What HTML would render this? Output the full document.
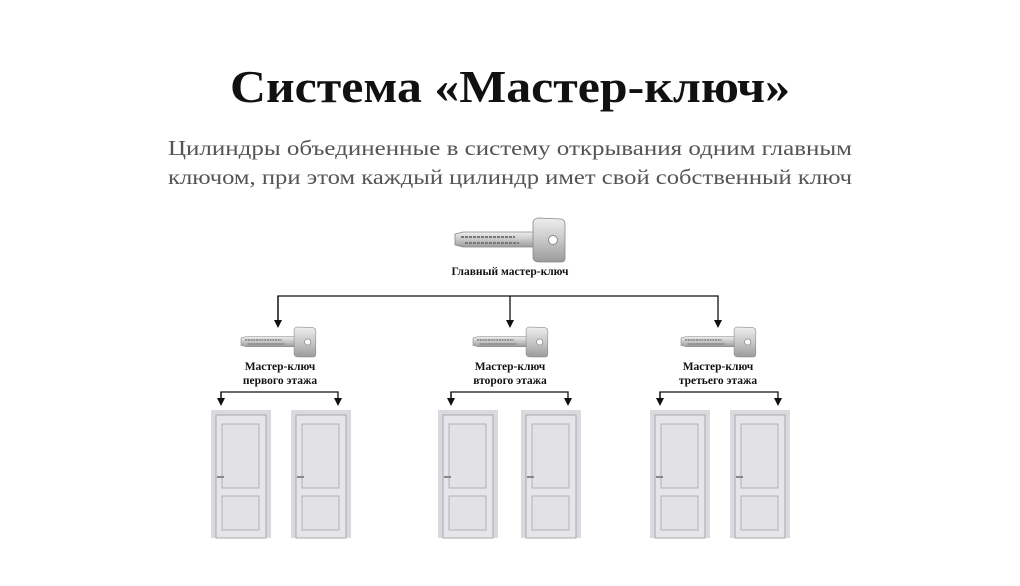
<!DOCTYPE html>
<html><head><meta charset="utf-8"><style>
html,body{margin:0;padding:0;background:#fff;}
svg{display:block;}
</style></head><body>
<svg width="1020" height="586" viewBox="0 0 1020 586" xmlns="http://www.w3.org/2000/svg" font-family="'Liberation Serif', serif">
<defs>
  <linearGradient id="kg" x1="0" y1="0" x2="0" y2="1">
    <stop offset="0" stop-color="#eee"/><stop offset="0.5" stop-color="#c8c8c8"/><stop offset="1" stop-color="#9a9a9a"/>
  </linearGradient>
  <g id="key">
    <path d="M0,16 L8,14 L80,14 L80,29 L8,29 L0,27 Z" fill="url(#kg)" stroke="#888" stroke-width="0.8"/>
    <line x1="6" y1="19" x2="60" y2="19" stroke="#777" stroke-width="2" stroke-dasharray="3 1"/>
    <line x1="10" y1="25" x2="64" y2="25" stroke="#777" stroke-width="2" stroke-dasharray="3 1"/>
    <path d="M78,4 Q79,0 84,0 L106,1 Q110,2 110,6 L110,40 Q110,44 106,44 L84,44 Q79,44 78,40 Z" fill="url(#kg)" stroke="#888" stroke-width="0.8"/>
    <circle cx="98" cy="22" r="4.5" fill="#fff" stroke="#888" stroke-width="1"/>
  </g>
  <g id="door">
    <rect x="0" y="0" width="60" height="128" fill="#d9d9de"/>
    <rect x="5" y="5" width="50" height="123" fill="#e6e6ea" stroke="#a8a8ae" stroke-width="1"/>
    <rect x="11" y="14" width="37" height="64" fill="#e2e2e6" stroke="#b0b0b6" stroke-width="1"/>
    <rect x="11" y="86" width="37" height="34" fill="#e2e2e6" stroke="#b0b0b6" stroke-width="1"/>
    <rect x="6" y="66" width="7" height="2" fill="#888"/>
  </g>
  <marker id="ah" markerWidth="8" markerHeight="8" refX="4" refY="4" orient="auto" markerUnits="userSpaceOnUse">
    <path d="M0,0 L8,4 L0,8 Z" fill="#111"/>
  </marker>
</defs>

<text x="510" y="102" text-anchor="middle" font-size="46" font-weight="bold" fill="#111" textLength="560" lengthAdjust="spacingAndGlyphs">Система «Мастер-ключ»</text>
<text x="510" y="155" text-anchor="middle" font-size="21" fill="#555" textLength="684" lengthAdjust="spacingAndGlyphs">Цилиндры объединенные в систему открывания одним главным</text>
<text x="510" y="184" text-anchor="middle" font-size="21" fill="#555" textLength="684" lengthAdjust="spacingAndGlyphs">ключом, при этом каждый цилиндр имет свой собственный ключ</text>

<use href="#key" transform="translate(455,218)"/>
<text x="510" y="275" text-anchor="middle" font-size="11.5" font-weight="bold" fill="#111">Главный мастер-ключ</text>

<g stroke="#111" stroke-width="1.3" fill="none">
  <polyline points="278,324 278,296 718,296 718,324" marker-end="url(#ah)"/>
  <line x1="278" y1="296" x2="278" y2="324" marker-end="url(#ah)"/>
  <line x1="510" y1="296" x2="510" y2="324" marker-end="url(#ah)"/>
  <polyline points="221,402 221,392 338,392 338,402" marker-end="url(#ah)"/>
  <line x1="221" y1="392" x2="221" y2="402" marker-end="url(#ah)"/>
  <polyline points="451,402 451,392 568,392 568,402" marker-end="url(#ah)"/>
  <line x1="451" y1="392" x2="451" y2="402" marker-end="url(#ah)"/>
  <polyline points="660,402 660,392 778,392 778,402" marker-end="url(#ah)"/>
  <line x1="660" y1="392" x2="660" y2="402" marker-end="url(#ah)"/>
</g>

<use href="#key" transform="translate(241,327) scale(0.68)"/>
<use href="#key" transform="translate(473,327) scale(0.68)"/>
<use href="#key" transform="translate(681,327) scale(0.68)"/>

<g font-size="11.5" font-weight="bold" fill="#111" text-anchor="middle">
  <text x="280" y="370">Мастер-ключ</text><text x="280" y="384">первого этажа</text>
  <text x="510" y="370">Мастер-ключ</text><text x="510" y="384">второго этажа</text>
  <text x="718" y="370">Мастер-ключ</text><text x="718" y="384">третьего этажа</text>
</g>

<use href="#door" x="211" y="410"/>
<use href="#door" x="291" y="410"/>
<use href="#door" x="438" y="410"/>
<use href="#door" x="521" y="410"/>
<use href="#door" x="650" y="410"/>
<use href="#door" x="730" y="410"/>
</svg>
</body></html>
